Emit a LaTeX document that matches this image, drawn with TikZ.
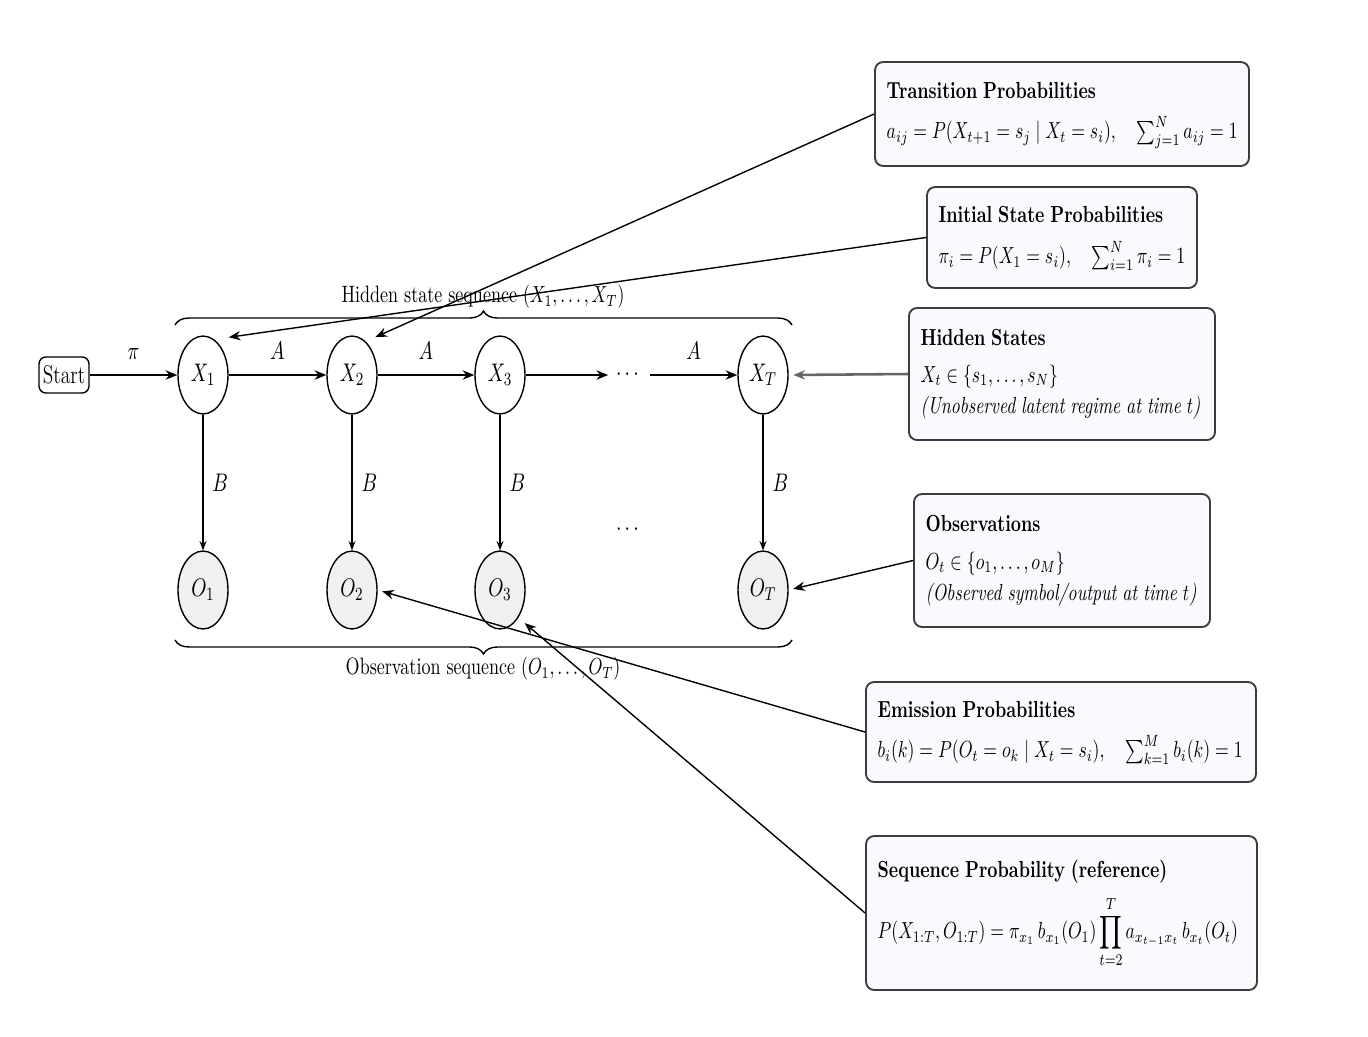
\documentclass[tikz,border=0pt]{standalone}
\usepackage{amsmath,amssymb}
\usepackage{graphicx}
\usetikzlibrary{arrows.meta,shapes.geometric,decorations.pathreplacing,calc}
\newcommand{\sqz}[1]{\scalebox{0.76}[1]{#1}}
\definecolor{boxfill}{RGB}{249,249,255}
\definecolor{boxdraw}{RGB}{60,60,60}
\begin{document}
\begin{tikzpicture}[x=0.43pt,y=-0.43pt,
  state/.style={ellipse,draw,line width=0.6pt,minimum width=21.5pt,minimum height=33.5pt,inner sep=0pt,font=\fontsize{11}{13}\selectfont},
  obs/.style={state,fill=gray!12},
  startbox/.style={rectangle,rounded corners=3pt,draw,line width=0.6pt,minimum width=21.5pt,minimum height=15.5pt,inner sep=0pt,font=\fontsize{11}{13}\selectfont},
  infobox/.style={rectangle,rounded corners=3.5pt,draw=boxdraw,fill=boxfill,line width=0.8pt,inner xsep=5pt,inner ysep=0pt,align=left},
  chain/.style={-{Stealth[length=5pt,width=4pt]},line width=0.9pt},
  emit/.style={-{Stealth[length=4pt,width=3pt]},line width=0.5pt},
  link/.style={-{Stealth[length=5pt,width=4pt]},line width=0.6pt,shorten >=2pt},
  lab/.style={font=\fontsize{11}{13}\selectfont},
  bracelab/.style={font=\fontsize{10.2}{12}\selectfont},
  bracestyle/.style={decorate,line width=0.6pt,decoration={brace,amplitude=6pt}},
]
\useasboundingbox (0,0) rectangle (1368,1036);

% chain
\node[startbox] (start) at (64,375) {\sqz{Start}};
\node[state] (x1) at (203,375) {\sqz{$X_1$}};
\node[state] (x2) at (352,375) {\sqz{$X_2$}};
\node[state] (x3) at (500,375) {\sqz{$X_3$}};
\node[lab,inner sep=3.2pt] (dots) at (629,375) {\sqz{$\cdots$}};
\node[state] (xT) at (763,375) {\sqz{$X_T$}};

\node[obs] (o1) at (203,590) {\sqz{$O_1$}};
\node[obs] (o2) at (352,590) {\sqz{$O_2$}};
\node[obs] (o3) at (500,590) {\sqz{$O_3$}};
\node[obs] (oT) at (763,590) {\sqz{$O_T$}};
\node[lab] (vdots) at (629,530) {\sqz{$\cdots$}};

\draw[chain] (start) -- node[lab,above=3pt] (lpi) {\sqz{$\pi$}} (x1);
\draw[chain] (x1) -- node[lab,above=3pt] (la1) {\sqz{$A$}} (x2);
\draw[chain] (x2) -- node[lab,above=3pt] (la2) {\sqz{$A$}} (x3);
\draw[chain] (x3) -- (dots);
\draw[chain] (dots) -- node[lab,above=3pt] (la3) {\sqz{$A$}} (xT);

\draw[emit] (x1) -- node[lab,right=0.5pt] (lb1) {\sqz{$B$}} (o1);
\draw[emit] (x2) -- node[lab,right=0.5pt] (lb2) {\sqz{$B$}} (o2);
\draw[emit] (x3) -- node[lab,right=0.5pt] (lb3) {\sqz{$B$}} (o3);
\draw[emit] (xT) -- node[lab,right=0.5pt] (lb4) {\sqz{$B$}} (oT);

% braces
\draw[bracestyle] (175,325) -- (792,325);
\node[bracelab] (hidlab) at (483,297) {\sqz{Hidden state sequence $(X_1,\dots,X_T)$}};
\draw[bracestyle] (792,640) -- (175,640);
\node[bracelab] (obslab) at (483,669) {\sqz{Observation sequence $(O_1,\dots,O_T)$}};

% info boxes
\node[infobox,text width=150.8pt,minimum height=44.7pt] (trans) at (1062,114)
 {\sqz{\begin{tabular}{@{}l@{}}\textbf{Transition Probabilities}\\[4pt]
 $a_{ij} = P(X_{t+1} = s_j \mid X_t = s_i),\quad \sum_{j=1}^{N} a_{ij} = 1$\end{tabular}}};
\node[infobox,text width=106.1pt,minimum height=43.4pt] (init) at (1062,237.5)
 {\sqz{\begin{tabular}{@{}l@{}}\textbf{Initial State Probabilities}\\[4.5pt]
 $\pi_i = P(X_1 = s_i),\quad \sum_{i=1}^{N} \pi_i = 1$\end{tabular}}};
\node[infobox,text width=121.6pt,minimum height=56.8pt] (hid) at (1062,374)
 {\sqz{\begin{tabular}{@{}l@{}}\textbf{Hidden States}\\[4pt]
 $X_t \in \{s_1,\dots,s_N\}$\\[1.5pt]
 \textit{(Unobserved latent regime at time $t$)}\end{tabular}}};
\node[infobox,text width=117.3pt,minimum height=57.2pt] (obsb) at (1062,560.5)
 {\sqz{\begin{tabular}{@{}l@{}}\textbf{Observations}\\[4pt]
 $O_t \in \{o_1,\dots,o_M\}$\\[1.5pt]
 \textit{(Observed symbol/output at time $t$)}\end{tabular}}};
\node[infobox,text width=157.7pt,minimum height=43pt] (emis) at (1061,732)
 {\sqz{\begin{tabular}{@{}l@{}}\textbf{Emission Probabilities}\\[4pt]
 $b_i(k) = P(O_t = o_k \mid X_t = s_i),\quad \sum_{k=1}^{M} b_i(k) = 1$\end{tabular}}};
\node[infobox,text width=158.1pt,minimum height=66.2pt] (seq) at (1061.5,913)
 {\sqz{\begin{tabular}{@{}l@{}}\textbf{Sequence Probability (reference)}\\[4.5pt]
 $\displaystyle P(X_{1:T},O_{1:T}) = \pi_{x_1}\, b_{x_1}(O_1) \prod_{t=2}^{T} a_{x_{t-1}x_t}\, b_{x_t}(O_t)$\end{tabular}}};

% links
\draw[link] (trans.west) -- ([shift={(1,-8)}]x2.north east);
\draw[link] (init.west) -- ([shift={(3,-9)}]x1.north east);
\draw[link,draw=black!60,line width=1.1pt] (hid.west) -- (xT.east);
\draw[link] (obsb.west) -- (oT.east);
\draw[link] (emis.west) -- (o2.east);
\draw[link] (seq.west) -- ([shift={(3,2)}]o3.south east);
\end{tikzpicture}
\end{document}
